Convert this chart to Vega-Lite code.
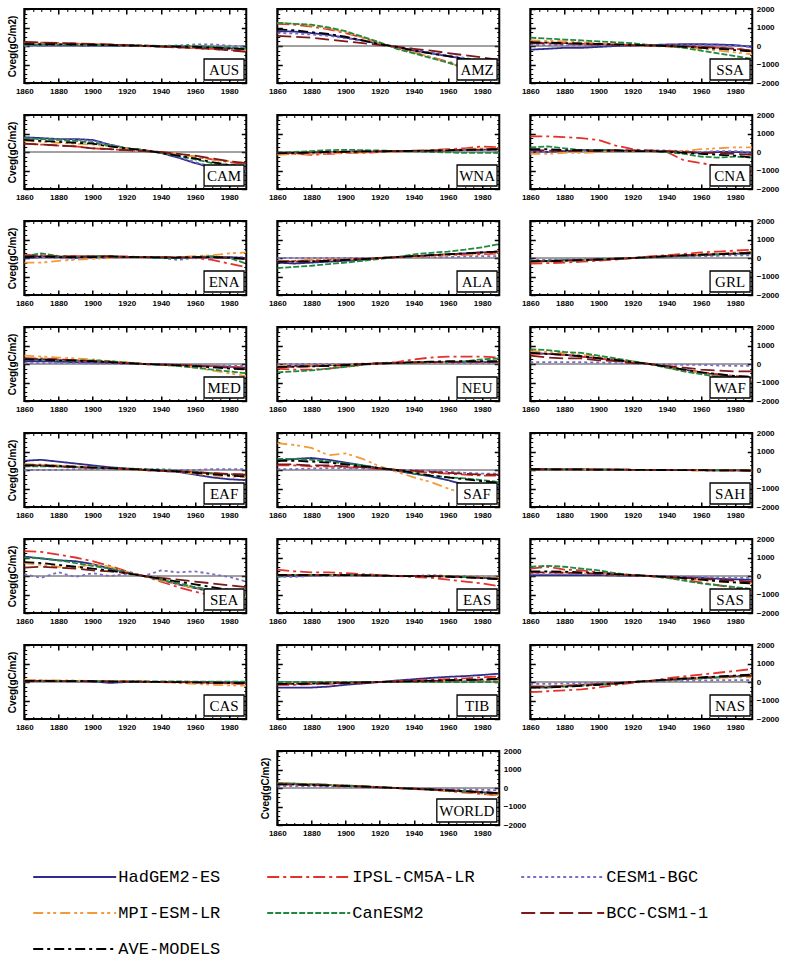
{
"$schema":"https://vega.github.io/schema/vega-lite/v6.json",
"padding":{"left":6,"top":4,"right":2,"bottom":5},
"datasets":{"d":[
{"r":"AUS","t":1860,"H":50,"I":200,"C":0,"M":150,"N":60,"B":220,"A":110},
{"r":"AUS","t":1870,"H":40,"I":180,"C":0,"M":130,"N":80,"B":190,"A":100},
{"r":"AUS","t":1880,"H":30,"I":150,"C":20,"M":110,"N":70,"B":160,"A":90},
{"r":"AUS","t":1890,"H":30,"I":130,"C":0,"M":100,"N":60,"B":140,"A":80},
{"r":"AUS","t":1900,"H":20,"I":100,"C":10,"M":80,"N":50,"B":110,"A":60},
{"r":"AUS","t":1910,"H":20,"I":70,"C":20,"M":60,"N":40,"B":80,"A":50},
{"r":"AUS","t":1920,"H":10,"I":40,"C":30,"M":30,"N":30,"B":50,"A":30},
{"r":"AUS","t":1930,"H":0,"I":0,"C":20,"M":10,"N":40,"B":10,"A":10},
{"r":"AUS","t":1940,"H":-20,"I":-40,"C":0,"M":-20,"N":0,"B":-30,"A":-20},
{"r":"AUS","t":1950,"H":-40,"I":-80,"C":30,"M":-50,"N":10,"B":-70,"A":-30},
{"r":"AUS","t":1960,"H":-60,"I":-120,"C":80,"M":-90,"N":0,"B":-110,"A":-50},
{"r":"AUS","t":1970,"H":-80,"I":-160,"C":90,"M":-130,"N":-40,"B":-160,"A":-80},
{"r":"AUS","t":1980,"H":-120,"I":-220,"C":20,"M":-170,"N":-80,"B":-230,"A":-130},
{"r":"AUS","t":1990,"H":-150,"I":-280,"C":-50,"M":-220,"N":-140,"B":-320,"A":-180},
{"r":"AMZ","t":1860,"H":800,"I":1200,"C":700,"M":1250,"N":1250,"B":550,"A":900},
{"r":"AMZ","t":1870,"H":780,"I":1150,"C":680,"M":1200,"N":1200,"B":500,"A":850},
{"r":"AMZ","t":1880,"H":700,"I":1050,"C":620,"M":1100,"N":1150,"B":450,"A":750},
{"r":"AMZ","t":1890,"H":600,"I":900,"C":550,"M":950,"N":1000,"B":350,"A":650},
{"r":"AMZ","t":1900,"H":450,"I":700,"C":420,"M":750,"N":800,"B":250,"A":500},
{"r":"AMZ","t":1910,"H":300,"I":450,"C":280,"M":450,"N":500,"B":150,"A":300},
{"r":"AMZ","t":1920,"H":100,"I":150,"C":100,"M":150,"N":200,"B":50,"A":100},
{"r":"AMZ","t":1930,"H":-50,"I":-100,"C":-30,"M":-100,"N":-150,"B":-30,"A":-50},
{"r":"AMZ","t":1940,"H":-250,"I":-350,"C":-200,"M":-350,"N":-400,"B":-150,"A":-250},
{"r":"AMZ","t":1950,"H":-400,"I":-600,"C":-350,"M":-600,"N":-650,"B":-250,"A":-400},
{"r":"AMZ","t":1960,"H":-550,"I":-850,"C":-500,"M":-900,"N":-900,"B":-380,"A":-550},
{"r":"AMZ","t":1970,"H":-700,"I":-1100,"C":-650,"M":-1200,"N":-1200,"B":-500,"A":-700},
{"r":"AMZ","t":1980,"H":-850,"I":-1350,"C":-800,"M":-1500,"N":-1450,"B":-620,"A":-850},
{"r":"AMZ","t":1990,"H":-950,"I":-1550,"C":-900,"M":-1700,"N":-1650,"B":-750,"A":-950},
{"r":"SSA","t":1860,"H":-200,"I":200,"C":50,"M":300,"N":450,"B":150,"A":200},
{"r":"SSA","t":1870,"H":-150,"I":180,"C":50,"M":280,"N":400,"B":150,"A":180},
{"r":"SSA","t":1880,"H":-100,"I":150,"C":40,"M":250,"N":350,"B":120,"A":160},
{"r":"SSA","t":1890,"H":-100,"I":120,"C":40,"M":200,"N":300,"B":100,"A":140},
{"r":"SSA","t":1900,"H":-50,"I":100,"C":30,"M":150,"N":250,"B":80,"A":110},
{"r":"SSA","t":1910,"H":0,"I":80,"C":30,"M":100,"N":200,"B":60,"A":90},
{"r":"SSA","t":1920,"H":30,"I":50,"C":20,"M":50,"N":150,"B":40,"A":60},
{"r":"SSA","t":1930,"H":50,"I":20,"C":20,"M":0,"N":50,"B":20,"A":30},
{"r":"SSA","t":1940,"H":80,"I":0,"C":30,"M":-30,"N":0,"B":0,"A":0},
{"r":"SSA","t":1950,"H":100,"I":-30,"C":50,"M":-80,"N":-100,"B":-20,"A":-40},
{"r":"SSA","t":1960,"H":100,"I":-60,"C":50,"M":-150,"N":-250,"B":-50,"A":-100},
{"r":"SSA","t":1970,"H":80,"I":-100,"C":30,"M":-250,"N":-400,"B":-100,"A":-150},
{"r":"SSA","t":1980,"H":50,"I":-150,"C":0,"M":-350,"N":-550,"B":-150,"A":-220},
{"r":"SSA","t":1990,"H":-50,"I":-250,"C":-50,"M":-450,"N":-700,"B":-250,"A":-300},
{"r":"CAM","t":1860,"H":800,"I":450,"C":750,"M":600,"N":750,"B":450,"A":650},
{"r":"CAM","t":1870,"H":750,"I":400,"C":700,"M":550,"N":700,"B":400,"A":600},
{"r":"CAM","t":1880,"H":700,"I":350,"C":700,"M":500,"N":650,"B":350,"A":550},
{"r":"CAM","t":1890,"H":700,"I":300,"C":650,"M":450,"N":600,"B":300,"A":500},
{"r":"CAM","t":1900,"H":650,"I":200,"C":600,"M":400,"N":500,"B":200,"A":450},
{"r":"CAM","t":1910,"H":400,"I":150,"C":400,"M":300,"N":350,"B":150,"A":300},
{"r":"CAM","t":1920,"H":200,"I":100,"C":200,"M":200,"N":200,"B":100,"A":200},
{"r":"CAM","t":1930,"H":100,"I":50,"C":100,"M":100,"N":100,"B":50,"A":100},
{"r":"CAM","t":1940,"H":-50,"I":0,"C":0,"M":0,"N":-50,"B":0,"A":-50},
{"r":"CAM","t":1950,"H":-300,"I":-100,"C":-250,"M":-100,"N":-200,"B":-100,"A":-200},
{"r":"CAM","t":1960,"H":-600,"I":-250,"C":-550,"M":-250,"N":-400,"B":-200,"A":-350},
{"r":"CAM","t":1970,"H":-850,"I":-400,"C":-800,"M":-400,"N":-600,"B":-350,"A":-550},
{"r":"CAM","t":1980,"H":-1000,"I":-550,"C":-950,"M":-500,"N":-700,"B":-500,"A":-700},
{"r":"CAM","t":1990,"H":-1100,"I":-650,"C":-1050,"M":-600,"N":-800,"B":-600,"A":-800},
{"r":"WNA","t":1860,"H":-50,"I":-100,"C":-50,"M":-150,"N":-50,"B":-50,"A":-70},
{"r":"WNA","t":1870,"H":-50,"I":-100,"C":-30,"M":-120,"N":0,"B":-50,"A":-50},
{"r":"WNA","t":1880,"H":-30,"I":-150,"C":-20,"M":-100,"N":50,"B":-30,"A":-30},
{"r":"WNA","t":1890,"H":0,"I":-100,"C":0,"M":-80,"N":100,"B":0,"A":0},
{"r":"WNA","t":1900,"H":0,"I":-50,"C":0,"M":-50,"N":120,"B":0,"A":20},
{"r":"WNA","t":1910,"H":20,"I":-50,"C":20,"M":-30,"N":100,"B":20,"A":30},
{"r":"WNA","t":1920,"H":30,"I":0,"C":30,"M":0,"N":80,"B":30,"A":40},
{"r":"WNA","t":1930,"H":50,"I":30,"C":40,"M":30,"N":50,"B":50,"A":50},
{"r":"WNA","t":1940,"H":50,"I":60,"C":50,"M":50,"N":30,"B":70,"A":60},
{"r":"WNA","t":1950,"H":60,"I":100,"C":60,"M":80,"N":0,"B":80,"A":70},
{"r":"WNA","t":1960,"H":80,"I":150,"C":80,"M":120,"N":-20,"B":100,"A":90},
{"r":"WNA","t":1970,"H":100,"I":200,"C":100,"M":150,"N":-50,"B":120,"A":110},
{"r":"WNA","t":1980,"H":120,"I":300,"C":110,"M":200,"N":-50,"B":130,"A":130},
{"r":"WNA","t":1990,"H":150,"I":250,"C":120,"M":200,"N":-50,"B":150,"A":150},
{"r":"CNA","t":1860,"H":50,"I":850,"C":0,"M":-100,"N":250,"B":100,"A":150},
{"r":"CNA","t":1870,"H":0,"I":850,"C":0,"M":-100,"N":300,"B":80,"A":150},
{"r":"CNA","t":1880,"H":50,"I":800,"C":50,"M":-50,"N":200,"B":50,"A":100},
{"r":"CNA","t":1890,"H":100,"I":750,"C":50,"M":-50,"N":100,"B":50,"A":100},
{"r":"CNA","t":1900,"H":100,"I":650,"C":50,"M":0,"N":100,"B":50,"A":80},
{"r":"CNA","t":1910,"H":100,"I":350,"C":80,"M":50,"N":100,"B":80,"A":80},
{"r":"CNA","t":1920,"H":50,"I":150,"C":80,"M":50,"N":50,"B":80,"A":50},
{"r":"CNA","t":1930,"H":50,"I":50,"C":80,"M":50,"N":50,"B":80,"A":50},
{"r":"CNA","t":1940,"H":50,"I":0,"C":80,"M":50,"N":0,"B":50,"A":20},
{"r":"CNA","t":1950,"H":0,"I":-450,"C":50,"M":50,"N":-100,"B":0,"A":-50},
{"r":"CNA","t":1960,"H":-50,"I":-600,"C":0,"M":150,"N":-250,"B":-50,"A":-100},
{"r":"CNA","t":1970,"H":0,"I":-750,"C":50,"M":200,"N":-300,"B":-50,"A":-150},
{"r":"CNA","t":1980,"H":0,"I":-950,"C":50,"M":250,"N":-250,"B":-100,"A":-200},
{"r":"CNA","t":1990,"H":-50,"I":-1100,"C":0,"M":250,"N":-300,"B":-150,"A":-300},
{"r":"ENA","t":1860,"H":0,"I":150,"C":50,"M":-250,"N":100,"B":100,"A":50},
{"r":"ENA","t":1870,"H":50,"I":150,"C":50,"M":-250,"N":250,"B":100,"A":80},
{"r":"ENA","t":1880,"H":50,"I":100,"C":0,"M":-150,"N":100,"B":80,"A":50},
{"r":"ENA","t":1890,"H":0,"I":100,"C":-50,"M":-100,"N":50,"B":80,"A":50},
{"r":"ENA","t":1900,"H":50,"I":100,"C":0,"M":-50,"N":100,"B":80,"A":50},
{"r":"ENA","t":1910,"H":50,"I":100,"C":0,"M":0,"N":100,"B":80,"A":80},
{"r":"ENA","t":1920,"H":50,"I":80,"C":50,"M":50,"N":50,"B":50,"A":60},
{"r":"ENA","t":1930,"H":50,"I":50,"C":50,"M":50,"N":50,"B":50,"A":50},
{"r":"ENA","t":1940,"H":0,"I":50,"C":0,"M":50,"N":0,"B":50,"A":30},
{"r":"ENA","t":1950,"H":0,"I":50,"C":-100,"M":50,"N":0,"B":50,"A":20},
{"r":"ENA","t":1960,"H":50,"I":0,"C":0,"M":100,"N":50,"B":30,"A":50},
{"r":"ENA","t":1970,"H":50,"I":-100,"C":0,"M":150,"N":100,"B":30,"A":50},
{"r":"ENA","t":1980,"H":50,"I":-300,"C":0,"M":250,"N":0,"B":0,"A":20},
{"r":"ENA","t":1990,"H":0,"I":-500,"C":50,"M":300,"N":-300,"B":-50,"A":-50},
{"r":"ALA","t":1860,"H":-250,"I":-150,"C":0,"M":-150,"N":-550,"B":-200,"A":-200},
{"r":"ALA","t":1870,"H":-300,"I":-150,"C":0,"M":-150,"N":-480,"B":-200,"A":-200},
{"r":"ALA","t":1880,"H":-250,"I":-120,"C":0,"M":-120,"N":-420,"B":-180,"A":-180},
{"r":"ALA","t":1890,"H":-200,"I":-100,"C":0,"M":-100,"N":-330,"B":-150,"A":-150},
{"r":"ALA","t":1900,"H":-150,"I":-80,"C":0,"M":-80,"N":-250,"B":-100,"A":-100},
{"r":"ALA","t":1910,"H":-100,"I":-50,"C":0,"M":-50,"N":-150,"B":-50,"A":-60},
{"r":"ALA","t":1920,"H":0,"I":0,"C":0,"M":0,"N":-50,"B":0,"A":0},
{"r":"ALA","t":1930,"H":50,"I":50,"C":50,"M":50,"N":50,"B":50,"A":50},
{"r":"ALA","t":1940,"H":100,"I":80,"C":50,"M":80,"N":200,"B":100,"A":100},
{"r":"ALA","t":1950,"H":150,"I":100,"C":50,"M":100,"N":280,"B":150,"A":150},
{"r":"ALA","t":1960,"H":200,"I":150,"C":50,"M":150,"N":350,"B":200,"A":200},
{"r":"ALA","t":1970,"H":250,"I":180,"C":80,"M":200,"N":450,"B":250,"A":250},
{"r":"ALA","t":1980,"H":300,"I":200,"C":100,"M":250,"N":580,"B":300,"A":300},
{"r":"ALA","t":1990,"H":350,"I":250,"C":100,"M":300,"N":750,"B":350,"A":350},
{"r":"GRL","t":1860,"H":-150,"I":-300,"C":-100,"M":-200,"N":-150,"B":-200,"A":-180},
{"r":"GRL","t":1870,"H":-150,"I":-280,"C":-100,"M":-180,"N":-150,"B":-180,"A":-170},
{"r":"GRL","t":1880,"H":-120,"I":-250,"C":-80,"M":-150,"N":-120,"B":-150,"A":-150},
{"r":"GRL","t":1890,"H":-100,"I":-200,"C":-60,"M":-120,"N":-100,"B":-120,"A":-120},
{"r":"GRL","t":1900,"H":-80,"I":-150,"C":-40,"M":-80,"N":-80,"B":-80,"A":-80},
{"r":"GRL","t":1910,"H":-40,"I":-80,"C":-20,"M":-40,"N":-40,"B":-40,"A":-40},
{"r":"GRL","t":1920,"H":0,"I":0,"C":0,"M":0,"N":0,"B":0,"A":0},
{"r":"GRL","t":1930,"H":40,"I":80,"C":20,"M":50,"N":40,"B":50,"A":50},
{"r":"GRL","t":1940,"H":80,"I":150,"C":50,"M":100,"N":80,"B":100,"A":100},
{"r":"GRL","t":1950,"H":120,"I":220,"C":80,"M":150,"N":120,"B":150,"A":140},
{"r":"GRL","t":1960,"H":150,"I":300,"C":100,"M":200,"N":160,"B":180,"A":180},
{"r":"GRL","t":1970,"H":200,"I":350,"C":120,"M":250,"N":200,"B":200,"A":210},
{"r":"GRL","t":1980,"H":230,"I":400,"C":150,"M":300,"N":230,"B":250,"A":240},
{"r":"GRL","t":1990,"H":250,"I":450,"C":150,"M":300,"N":250,"B":300,"A":270},
{"r":"MED","t":1860,"H":150,"I":300,"C":50,"M":450,"N":250,"B":300,"A":250},
{"r":"MED","t":1870,"H":150,"I":300,"C":50,"M":400,"N":250,"B":250,"A":230},
{"r":"MED","t":1880,"H":120,"I":250,"C":50,"M":350,"N":200,"B":250,"A":200},
{"r":"MED","t":1890,"H":100,"I":200,"C":50,"M":300,"N":200,"B":200,"A":180},
{"r":"MED","t":1900,"H":80,"I":150,"C":30,"M":250,"N":200,"B":150,"A":150},
{"r":"MED","t":1910,"H":60,"I":100,"C":20,"M":150,"N":150,"B":100,"A":100},
{"r":"MED","t":1920,"H":30,"I":50,"C":10,"M":100,"N":80,"B":50,"A":50},
{"r":"MED","t":1930,"H":0,"I":0,"C":0,"M":0,"N":0,"B":0,"A":0},
{"r":"MED","t":1940,"H":-20,"I":-30,"C":0,"M":-50,"N":-50,"B":-30,"A":-30},
{"r":"MED","t":1950,"H":-50,"I":-50,"C":-20,"M":-100,"N":-100,"B":-60,"A":-70},
{"r":"MED","t":1960,"H":-80,"I":-80,"C":-50,"M":-200,"N":-200,"B":-100,"A":-120},
{"r":"MED","t":1970,"H":-120,"I":-100,"C":-80,"M":-350,"N":-300,"B":-150,"A":-180},
{"r":"MED","t":1980,"H":-150,"I":-150,"C":-100,"M":-500,"N":-400,"B":-200,"A":-250},
{"r":"MED","t":1990,"H":-200,"I":-200,"C":-100,"M":-650,"N":-500,"B":-250,"A":-300},
{"r":"NEU","t":1860,"H":-100,"I":-250,"C":0,"M":-100,"N":-450,"B":-150,"A":-150},
{"r":"NEU","t":1870,"H":-100,"I":-300,"C":0,"M":-100,"N":-400,"B":-150,"A":-150},
{"r":"NEU","t":1880,"H":-80,"I":-300,"C":0,"M":-80,"N":-350,"B":-120,"A":-130},
{"r":"NEU","t":1890,"H":-60,"I":-250,"C":0,"M":-50,"N":-250,"B":-100,"A":-100},
{"r":"NEU","t":1900,"H":-30,"I":-150,"C":0,"M":-30,"N":-150,"B":-50,"A":-60},
{"r":"NEU","t":1910,"H":0,"I":-50,"C":20,"M":0,"N":-50,"B":0,"A":-10},
{"r":"NEU","t":1920,"H":30,"I":50,"C":30,"M":30,"N":50,"B":30,"A":30},
{"r":"NEU","t":1930,"H":50,"I":100,"C":50,"M":50,"N":50,"B":50,"A":60},
{"r":"NEU","t":1940,"H":80,"I":250,"C":50,"M":50,"N":80,"B":80,"A":100},
{"r":"NEU","t":1950,"H":100,"I":350,"C":50,"M":80,"N":100,"B":100,"A":130},
{"r":"NEU","t":1960,"H":100,"I":400,"C":50,"M":100,"N":100,"B":100,"A":150},
{"r":"NEU","t":1970,"H":100,"I":400,"C":50,"M":100,"N":150,"B":120,"A":150},
{"r":"NEU","t":1980,"H":100,"I":400,"C":50,"M":100,"N":250,"B":120,"A":150},
{"r":"NEU","t":1990,"H":100,"I":350,"C":50,"M":100,"N":300,"B":120,"A":150},
{"r":"WAF","t":1860,"H":600,"I":550,"C":100,"M":700,"N":800,"B":450,"A":600},
{"r":"WAF","t":1870,"H":550,"I":550,"C":100,"M":650,"N":750,"B":350,"A":550},
{"r":"WAF","t":1880,"H":500,"I":500,"C":100,"M":600,"N":650,"B":300,"A":500},
{"r":"WAF","t":1890,"H":400,"I":400,"C":100,"M":500,"N":600,"B":300,"A":420},
{"r":"WAF","t":1900,"H":300,"I":300,"C":80,"M":400,"N":450,"B":200,"A":320},
{"r":"WAF","t":1910,"H":200,"I":200,"C":50,"M":280,"N":300,"B":150,"A":220},
{"r":"WAF","t":1920,"H":100,"I":100,"C":30,"M":150,"N":150,"B":50,"A":100},
{"r":"WAF","t":1930,"H":0,"I":0,"C":0,"M":0,"N":0,"B":0,"A":0},
{"r":"WAF","t":1940,"H":-150,"I":-150,"C":-30,"M":-200,"N":-200,"B":-100,"A":-150},
{"r":"WAF","t":1950,"H":-300,"I":-300,"C":-50,"M":-350,"N":-400,"B":-200,"A":-300},
{"r":"WAF","t":1960,"H":-450,"I":-450,"C":-50,"M":-500,"N":-550,"B":-300,"A":-450},
{"r":"WAF","t":1970,"H":-600,"I":-550,"C":-80,"M":-650,"N":-700,"B":-350,"A":-550},
{"r":"WAF","t":1980,"H":-700,"I":-650,"C":-100,"M":-800,"N":-850,"B":-400,"A":-650},
{"r":"WAF","t":1990,"H":-750,"I":-700,"C":-100,"M":-850,"N":-950,"B":-400,"A":-700},
{"r":"EAF","t":1860,"H":500,"I":300,"C":0,"M":300,"N":200,"B":250,"A":250},
{"r":"EAF","t":1870,"H":550,"I":250,"C":0,"M":300,"N":200,"B":250,"A":250},
{"r":"EAF","t":1880,"H":450,"I":200,"C":0,"M":250,"N":180,"B":200,"A":220},
{"r":"EAF","t":1890,"H":350,"I":150,"C":50,"M":200,"N":150,"B":150,"A":180},
{"r":"EAF","t":1900,"H":250,"I":120,"C":50,"M":150,"N":120,"B":120,"A":140},
{"r":"EAF","t":1910,"H":150,"I":100,"C":50,"M":100,"N":100,"B":100,"A":100},
{"r":"EAF","t":1920,"H":80,"I":50,"C":50,"M":50,"N":80,"B":50,"A":60},
{"r":"EAF","t":1930,"H":0,"I":0,"C":50,"M":0,"N":50,"B":0,"A":20},
{"r":"EAF","t":1940,"H":-50,"I":-30,"C":50,"M":-50,"N":0,"B":-50,"A":-30},
{"r":"EAF","t":1950,"H":-100,"I":-70,"C":0,"M":-100,"N":-50,"B":-80,"A":-70},
{"r":"EAF","t":1960,"H":-250,"I":-120,"C":0,"M":-200,"N":-100,"B":-120,"A":-150},
{"r":"EAF","t":1970,"H":-400,"I":-170,"C":50,"M":-300,"N":-200,"B":-170,"A":-230},
{"r":"EAF","t":1980,"H":-500,"I":-220,"C":50,"M":-350,"N":-250,"B":-220,"A":-300},
{"r":"EAF","t":1990,"H":-550,"I":-250,"C":50,"M":-400,"N":-300,"B":-250,"A":-350},
{"r":"SAF","t":1860,"H":500,"I":250,"C":50,"M":1450,"N":600,"B":300,"A":500},
{"r":"SAF","t":1870,"H":600,"I":250,"C":50,"M":1350,"N":600,"B":300,"A":500},
{"r":"SAF","t":1880,"H":650,"I":200,"C":80,"M":1200,"N":550,"B":250,"A":450},
{"r":"SAF","t":1890,"H":550,"I":200,"C":100,"M":800,"N":450,"B":250,"A":400},
{"r":"SAF","t":1900,"H":400,"I":150,"C":100,"M":900,"N":350,"B":200,"A":300},
{"r":"SAF","t":1910,"H":250,"I":100,"C":80,"M":600,"N":250,"B":150,"A":200},
{"r":"SAF","t":1920,"H":100,"I":50,"C":50,"M":200,"N":100,"B":80,"A":100},
{"r":"SAF","t":1930,"H":-50,"I":0,"C":0,"M":-100,"N":0,"B":0,"A":0},
{"r":"SAF","t":1940,"H":-200,"I":-80,"C":0,"M":-400,"N":-200,"B":-50,"A":-150},
{"r":"SAF","t":1950,"H":-350,"I":-150,"C":-50,"M":-650,"N":-300,"B":-100,"A":-300},
{"r":"SAF","t":1960,"H":-550,"I":-200,"C":-100,"M":-1000,"N":-400,"B":-150,"A":-400},
{"r":"SAF","t":1970,"H":-800,"I":-250,"C":-150,"M":-1300,"N":-450,"B":-200,"A":-500},
{"r":"SAF","t":1980,"H":-900,"I":-300,"C":-200,"M":-1500,"N":-550,"B":-250,"A":-600},
{"r":"SAF","t":1990,"H":-950,"I":-300,"C":-200,"M":-1700,"N":-650,"B":-250,"A":-700},
{"r":"SAH","t":1860,"H":40,"I":50,"C":30,"M":40,"N":30,"B":40,"A":40},
{"r":"SAH","t":1870,"H":40,"I":50,"C":30,"M":40,"N":30,"B":40,"A":40},
{"r":"SAH","t":1880,"H":30,"I":40,"C":30,"M":30,"N":30,"B":30,"A":30},
{"r":"SAH","t":1890,"H":30,"I":40,"C":20,"M":30,"N":20,"B":30,"A":30},
{"r":"SAH","t":1900,"H":20,"I":30,"C":20,"M":20,"N":20,"B":20,"A":20},
{"r":"SAH","t":1910,"H":20,"I":20,"C":10,"M":20,"N":10,"B":20,"A":20},
{"r":"SAH","t":1920,"H":10,"I":10,"C":10,"M":10,"N":10,"B":10,"A":10},
{"r":"SAH","t":1930,"H":0,"I":0,"C":0,"M":0,"N":0,"B":0,"A":0},
{"r":"SAH","t":1940,"H":0,"I":-10,"C":0,"M":0,"N":0,"B":0,"A":0},
{"r":"SAH","t":1950,"H":-10,"I":-10,"C":0,"M":-10,"N":0,"B":-10,"A":-10},
{"r":"SAH","t":1960,"H":-10,"I":-20,"C":-10,"M":-20,"N":-10,"B":-10,"A":-10},
{"r":"SAH","t":1970,"H":-20,"I":-20,"C":-10,"M":-20,"N":-10,"B":-20,"A":-20},
{"r":"SAH","t":1980,"H":-20,"I":-30,"C":-10,"M":-30,"N":-10,"B":-20,"A":-20},
{"r":"SAH","t":1990,"H":-30,"I":-40,"C":-10,"M":-40,"N":-20,"B":-30,"A":-30},
{"r":"SEA","t":1860,"H":1050,"I":1350,"C":100,"M":700,"N":1000,"B":450,"A":750},
{"r":"SEA","t":1870,"H":950,"I":1300,"C":-100,"M":600,"N":950,"B":500,"A":700},
{"r":"SEA","t":1880,"H":850,"I":1150,"C":200,"M":500,"N":850,"B":450,"A":600},
{"r":"SEA","t":1890,"H":800,"I":1000,"C":-50,"M":450,"N":700,"B":400,"A":500},
{"r":"SEA","t":1900,"H":650,"I":800,"C":150,"M":650,"N":550,"B":300,"A":400},
{"r":"SEA","t":1910,"H":400,"I":550,"C":0,"M":500,"N":400,"B":250,"A":300},
{"r":"SEA","t":1920,"H":200,"I":250,"C":100,"M":200,"N":200,"B":150,"A":150},
{"r":"SEA","t":1930,"H":0,"I":0,"C":0,"M":0,"N":0,"B":0,"A":0},
{"r":"SEA","t":1940,"H":-200,"I":-300,"C":300,"M":-250,"N":-200,"B":-100,"A":-150},
{"r":"SEA","t":1950,"H":-450,"I":-600,"C":200,"M":-450,"N":-400,"B":-200,"A":-300},
{"r":"SEA","t":1960,"H":-650,"I":-850,"C":250,"M":-650,"N":-600,"B":-300,"A":-450},
{"r":"SEA","t":1970,"H":-850,"I":-1050,"C":100,"M":-850,"N":-750,"B":-400,"A":-600},
{"r":"SEA","t":1980,"H":-1000,"I":-1250,"C":-50,"M":-950,"N":-900,"B":-500,"A":-750},
{"r":"SEA","t":1990,"H":-1100,"I":-1400,"C":-300,"M":-1100,"N":-1000,"B":-600,"A":-900},
{"r":"EAS","t":1860,"H":0,"I":350,"C":-50,"M":50,"N":0,"B":50,"A":60},
{"r":"EAS","t":1870,"H":0,"I":250,"C":-50,"M":50,"N":50,"B":50,"A":60},
{"r":"EAS","t":1880,"H":30,"I":200,"C":0,"M":50,"N":50,"B":50,"A":60},
{"r":"EAS","t":1890,"H":50,"I":200,"C":0,"M":50,"N":50,"B":50,"A":60},
{"r":"EAS","t":1900,"H":50,"I":150,"C":20,"M":50,"N":50,"B":30,"A":50},
{"r":"EAS","t":1910,"H":50,"I":100,"C":30,"M":50,"N":50,"B":30,"A":40},
{"r":"EAS","t":1920,"H":30,"I":50,"C":20,"M":30,"N":20,"B":20,"A":30},
{"r":"EAS","t":1930,"H":0,"I":0,"C":0,"M":0,"N":0,"B":0,"A":0},
{"r":"EAS","t":1940,"H":0,"I":-50,"C":0,"M":0,"N":0,"B":0,"A":-10},
{"r":"EAS","t":1950,"H":0,"I":-100,"C":50,"M":0,"N":0,"B":0,"A":-20},
{"r":"EAS","t":1960,"H":-20,"I":-200,"C":0,"M":0,"N":0,"B":-20,"A":-40},
{"r":"EAS","t":1970,"H":-50,"I":-300,"C":0,"M":-20,"N":-50,"B":-50,"A":-80},
{"r":"EAS","t":1980,"H":-100,"I":-400,"C":-30,"M":-50,"N":-100,"B":-100,"A":-120},
{"r":"EAS","t":1990,"H":-150,"I":-550,"C":-50,"M":-100,"N":-150,"B":-150,"A":-180},
{"r":"SAS","t":1860,"H":50,"I":400,"C":100,"M":200,"N":500,"B":200,"A":250},
{"r":"SAS","t":1870,"H":50,"I":500,"C":100,"M":200,"N":550,"B":200,"A":250},
{"r":"SAS","t":1880,"H":50,"I":350,"C":100,"M":180,"N":500,"B":180,"A":230},
{"r":"SAS","t":1890,"H":50,"I":300,"C":100,"M":150,"N":400,"B":150,"A":200},
{"r":"SAS","t":1900,"H":50,"I":200,"C":100,"M":120,"N":300,"B":120,"A":170},
{"r":"SAS","t":1910,"H":30,"I":100,"C":50,"M":80,"N":150,"B":80,"A":100},
{"r":"SAS","t":1920,"H":10,"I":50,"C":30,"M":30,"N":50,"B":30,"A":50},
{"r":"SAS","t":1930,"H":0,"I":0,"C":0,"M":0,"N":0,"B":0,"A":0},
{"r":"SAS","t":1940,"H":-30,"I":-100,"C":0,"M":-50,"N":-100,"B":-50,"A":-50},
{"r":"SAS","t":1950,"H":-60,"I":-200,"C":-30,"M":-100,"N":-250,"B":-100,"A":-120},
{"r":"SAS","t":1960,"H":-100,"I":-350,"C":-50,"M":-200,"N":-400,"B":-150,"A":-200},
{"r":"SAS","t":1970,"H":-150,"I":-500,"C":-80,"M":-300,"N":-500,"B":-200,"A":-280},
{"r":"SAS","t":1980,"H":-180,"I":-650,"C":-100,"M":-350,"N":-600,"B":-250,"A":-350},
{"r":"SAS","t":1990,"H":-200,"I":-800,"C":-100,"M":-400,"N":-700,"B":-300,"A":-400},
{"r":"CAS","t":1860,"H":50,"I":80,"C":30,"M":100,"N":50,"B":60,"A":60},
{"r":"CAS","t":1870,"H":50,"I":80,"C":30,"M":100,"N":50,"B":60,"A":60},
{"r":"CAS","t":1880,"H":50,"I":60,"C":30,"M":80,"N":50,"B":50,"A":50},
{"r":"CAS","t":1890,"H":30,"I":60,"C":30,"M":80,"N":50,"B":50,"A":50},
{"r":"CAS","t":1900,"H":30,"I":50,"C":20,"M":50,"N":50,"B":40,"A":40},
{"r":"CAS","t":1910,"H":-50,"I":40,"C":20,"M":50,"N":30,"B":30,"A":20},
{"r":"CAS","t":1920,"H":0,"I":30,"C":20,"M":50,"N":30,"B":20,"A":20},
{"r":"CAS","t":1930,"H":0,"I":20,"C":10,"M":30,"N":30,"B":10,"A":15},
{"r":"CAS","t":1940,"H":0,"I":0,"C":10,"M":0,"N":30,"B":0,"A":5},
{"r":"CAS","t":1950,"H":0,"I":-20,"C":0,"M":-50,"N":30,"B":-10,"A":-10},
{"r":"CAS","t":1960,"H":0,"I":-40,"C":0,"M":-100,"N":20,"B":-20,"A":-25},
{"r":"CAS","t":1970,"H":0,"I":-60,"C":0,"M":-150,"N":20,"B":-40,"A":-40},
{"r":"CAS","t":1980,"H":-20,"I":-80,"C":0,"M":-180,"N":20,"B":-50,"A":-55},
{"r":"CAS","t":1990,"H":-30,"I":-100,"C":0,"M":-200,"N":20,"B":-60,"A":-70},
{"r":"TIB","t":1860,"H":-300,"I":-150,"C":0,"M":-50,"N":0,"B":-100,"A":-100},
{"r":"TIB","t":1870,"H":-300,"I":-150,"C":0,"M":-50,"N":0,"B":-100,"A":-100},
{"r":"TIB","t":1880,"H":-300,"I":-120,"C":0,"M":-40,"N":0,"B":-80,"A":-90},
{"r":"TIB","t":1890,"H":-250,"I":-100,"C":0,"M":-30,"N":0,"B":-60,"A":-70},
{"r":"TIB","t":1900,"H":-150,"I":-80,"C":0,"M":-20,"N":0,"B":-40,"A":-50},
{"r":"TIB","t":1910,"H":-80,"I":-40,"C":0,"M":-10,"N":0,"B":-20,"A":-25},
{"r":"TIB","t":1920,"H":0,"I":0,"C":0,"M":0,"N":0,"B":0,"A":0},
{"r":"TIB","t":1930,"H":80,"I":40,"C":10,"M":10,"N":0,"B":20,"A":25},
{"r":"TIB","t":1940,"H":150,"I":80,"C":20,"M":30,"N":0,"B":40,"A":50},
{"r":"TIB","t":1950,"H":220,"I":120,"C":30,"M":50,"N":0,"B":60,"A":75},
{"r":"TIB","t":1960,"H":280,"I":160,"C":40,"M":70,"N":0,"B":80,"A":100},
{"r":"TIB","t":1970,"H":320,"I":200,"C":50,"M":90,"N":0,"B":100,"A":120},
{"r":"TIB","t":1980,"H":380,"I":250,"C":60,"M":100,"N":0,"B":120,"A":140},
{"r":"TIB","t":1990,"H":450,"I":300,"C":70,"M":120,"N":0,"B":150,"A":170},
{"r":"NAS","t":1860,"H":-250,"I":-550,"C":-100,"M":-250,"N":-300,"B":-250,"A":-300},
{"r":"NAS","t":1870,"H":-250,"I":-500,"C":-100,"M":-250,"N":-300,"B":-250,"A":-300},
{"r":"NAS","t":1880,"H":-200,"I":-450,"C":-80,"M":-200,"N":-250,"B":-220,"A":-260},
{"r":"NAS","t":1890,"H":-150,"I":-400,"C":-60,"M":-150,"N":-200,"B":-180,"A":-210},
{"r":"NAS","t":1900,"H":-100,"I":-300,"C":-40,"M":-100,"N":-150,"B":-120,"A":-150},
{"r":"NAS","t":1910,"H":-50,"I":-150,"C":-20,"M":-50,"N":-100,"B":-60,"A":-80},
{"r":"NAS","t":1920,"H":0,"I":-50,"C":0,"M":0,"N":0,"B":0,"A":0},
{"r":"NAS","t":1930,"H":50,"I":50,"C":20,"M":50,"N":50,"B":60,"A":60},
{"r":"NAS","t":1940,"H":100,"I":200,"C":40,"M":100,"N":100,"B":120,"A":130},
{"r":"NAS","t":1950,"H":150,"I":300,"C":60,"M":150,"N":150,"B":180,"A":190},
{"r":"NAS","t":1960,"H":200,"I":400,"C":80,"M":200,"N":200,"B":240,"A":250},
{"r":"NAS","t":1970,"H":250,"I":500,"C":100,"M":230,"N":250,"B":280,"A":300},
{"r":"NAS","t":1980,"H":300,"I":600,"C":100,"M":250,"N":300,"B":320,"A":350},
{"r":"NAS","t":1990,"H":350,"I":700,"C":100,"M":250,"N":350,"B":350,"A":400},
{"r":"WORLD","t":1860,"H":250,"I":250,"C":100,"M":250,"N":250,"B":200,"A":200},
{"r":"WORLD","t":1870,"H":230,"I":230,"C":100,"M":240,"N":230,"B":180,"A":190},
{"r":"WORLD","t":1880,"H":200,"I":200,"C":90,"M":210,"N":200,"B":160,"A":170},
{"r":"WORLD","t":1890,"H":170,"I":170,"C":80,"M":180,"N":170,"B":130,"A":140},
{"r":"WORLD","t":1900,"H":130,"I":130,"C":60,"M":140,"N":130,"B":100,"A":110},
{"r":"WORLD","t":1910,"H":90,"I":90,"C":40,"M":100,"N":90,"B":70,"A":80},
{"r":"WORLD","t":1920,"H":40,"I":40,"C":20,"M":50,"N":40,"B":30,"A":40},
{"r":"WORLD","t":1930,"H":0,"I":0,"C":0,"M":0,"N":0,"B":0,"A":0},
{"r":"WORLD","t":1940,"H":-40,"I":-50,"C":-20,"M":-50,"N":-40,"B":-40,"A":-40},
{"r":"WORLD","t":1950,"H":-80,"I":-100,"C":-40,"M":-100,"N":-80,"B":-80,"A":-80},
{"r":"WORLD","t":1960,"H":-130,"I":-170,"C":-60,"M":-150,"N":-130,"B":-120,"A":-130},
{"r":"WORLD","t":1970,"H":-180,"I":-250,"C":-80,"M":-220,"N":-190,"B":-170,"A":-180},
{"r":"WORLD","t":1980,"H":-230,"I":-320,"C":-100,"M":-300,"N":-250,"B":-220,"A":-230},
{"r":"WORLD","t":1990,"H":-280,"I":-400,"C":-120,"M":-380,"N":-320,"B":-270,"A":-280}
]},
"vconcat":[
{"hconcat":[
{"data":{"name":"d"},
 "transform":[{"filter":{"field":"r","oneOf":["AUS","CAM","ENA","MED","EAF","SEA","CAS"]}},{"fold":["H","I","C","M","N","B","A"],"as":["m","v"]}],
 "facet":{"row":{"field":"r","type":"nominal","sort":["AUS","CAM","ENA","MED","EAF","SEA","CAS"],"header":{"labels":false,"title":null}}},
 "spacing":{"row":32},"bounds":"flush",
 "resolve":{"axis":{"x":"independent","y":"independent"}},
 "spec":{"width":222,"height":74,
  "layer":[
   {"transform":[{"filter":"datum.t==1860&&datum.m=='A'"}],
    "mark":{"type":"rule","color":"#444444","strokeWidth":1},
    "encoding":{
     "x":{"datum":1860,"type":"quantitative","scale":{"domain":[1860,1990],"nice":false,"zero":false},"axis":{"orient":"top","values":[1860,1880,1900,1920,1940,1960,1980],"tickSize":-5,"tickWidth":1.5,"labels":false,"title":null}},
     "x2":{"datum":1990},
     "y":{"datum":0,"type":"quantitative","scale":{"domain":[-2000,2000],"nice":false,"zero":false},"axis":{"orient":"right","values":[-2000,-1000,0,1000,2000],"tickSize":-5,"tickWidth":1.5,"labels":false,"title":null}}}},
   {"mark":{"type":"line","strokeWidth":1.8,"clip":true},
    "encoding":{
     "x":{"field":"t","type":"quantitative","scale":{"domain":[1860,1990],"nice":false,"zero":false},"axis":{"orient":"bottom","values":[1860,1880,1900,1920,1940,1960,1980],"format":"d","tickSize":-5,"tickWidth":1.5,"labelPadding":9,"title":null}},
     "y":{"field":"v","type":"quantitative","scale":{"domain":[-2000,2000],"nice":false,"zero":false},"axis":{"orient":"left","values":[-2000,-1000,0,1000,2000],"tickSize":-5,"tickWidth":1.5,"labels":false,"title":"Cveg(gC/m2)","titlePadding":6}},
     "color":{"field":"m","type":"nominal","scale":{"domain":["H","I","C","M","N","B","A"],"range":["#2e2c8c","#e3312b","#7a6cc4","#f39b3a","#1e8a40","#7c1a1a","#000000"]},"legend":{"title":null,"labelExpr":"{'H':'HadGEM2-ES','I':'IPSL-CM5A-LR','C':'CESM1-BGC','M':'MPI-ESM-LR','N':'CanESM2','B':'BCC-CSM1-1','A':'AVE-MODELS'}[datum.label]"}},
     "strokeDash":{"field":"m","type":"nominal","scale":{"domain":["H","I","C","M","N","B","A"],"range":[[1,0],[12,4,3,4],[3,3],[10,4,3,3,3,4],[6,2],[14,5],[10,4,3,4]]},"legend":{"title":null,"labelExpr":"{'H':'HadGEM2-ES','I':'IPSL-CM5A-LR','C':'CESM1-BGC','M':'MPI-ESM-LR','N':'CanESM2','B':'BCC-CSM1-1','A':'AVE-MODELS'}[datum.label]"}}}},
   {"transform":[{"filter":"datum.t==1860&&datum.m=='A'"}],
    "mark":{"type":"point","shape":"M-1,-0.525L1,-0.525L1,0.525L-1,0.525Z","size":1600,"filled":true,"fill":"white","stroke":"black","strokeWidth":1.3,"opacity":1},
    "encoding":{
     "x":{"datum":1977,"type":"quantitative","scale":{"domain":[1860,1990],"nice":false,"zero":false},"axis":{"orient":"bottom","values":[1865,1870,1875,1885,1890,1895,1905,1910,1915,1925,1930,1935,1945,1950,1955,1965,1970,1975,1985],"tickSize":-2.5,"tickWidth":1,"labels":false,"title":null}},
     "y":{"datum":-1270,"type":"quantitative","scale":{"domain":[-2000,2000],"nice":false,"zero":false},"axis":{"orient":"left","values":[-1750,-1500,-1250,-750,-500,-250,250,500,750,1250,1500,1750],"tickSize":-2.5,"tickWidth":1,"labels":false,"title":null}}}},
   {"transform":[{"filter":"datum.t==1860&&datum.m=='A'"}],
    "mark":{"type":"text","font":"Liberation Serif","fontSize":15,"baseline":"middle","align":"center","dy":1,"color":"black"},
    "encoding":{
     "x":{"datum":1977,"type":"quantitative","scale":{"domain":[1860,1990],"nice":false,"zero":false},"axis":{"orient":"top","values":[1865,1870,1875,1885,1890,1895,1905,1910,1915,1925,1930,1935,1945,1950,1955,1965,1970,1975,1985],"tickSize":-2.5,"tickWidth":1,"labels":false,"title":null}},
     "y":{"datum":-1270,"type":"quantitative","scale":{"domain":[-2000,2000],"nice":false,"zero":false},"axis":{"orient":"right","values":[-1750,-1500,-1250,-750,-500,-250,250,500,750,1250,1500,1750],"tickSize":-2.5,"tickWidth":1,"labels":false,"title":null}},
     "text":{"field":"r","type":"nominal"}}}
  ],
  "resolve":{"axis":{"x":"independent","y":"independent"}}}},
{"data":{"name":"d"},
 "transform":[{"filter":{"field":"r","oneOf":["AMZ","WNA","ALA","NEU","SAF","EAS","TIB"]}},{"fold":["H","I","C","M","N","B","A"],"as":["m","v"]}],
 "facet":{"row":{"field":"r","type":"nominal","sort":["AMZ","WNA","ALA","NEU","SAF","EAS","TIB"],"header":{"labels":false,"title":null}}},
 "spacing":{"row":32},"bounds":"flush",
 "resolve":{"axis":{"x":"independent","y":"independent"}},
 "spec":{"width":222,"height":74,
  "layer":[
   {"transform":[{"filter":"datum.t==1860&&datum.m=='A'"}],
    "mark":{"type":"rule","color":"#444444","strokeWidth":1},
    "encoding":{
     "x":{"datum":1860,"type":"quantitative","scale":{"domain":[1860,1990],"nice":false,"zero":false},"axis":{"orient":"top","values":[1860,1880,1900,1920,1940,1960,1980],"tickSize":-5,"tickWidth":1.5,"labels":false,"title":null}},
     "x2":{"datum":1990},
     "y":{"datum":0,"type":"quantitative","scale":{"domain":[-2000,2000],"nice":false,"zero":false},"axis":{"orient":"right","values":[-2000,-1000,0,1000,2000],"tickSize":-5,"tickWidth":1.5,"labels":false,"title":null}}}},
   {"mark":{"type":"line","strokeWidth":1.8,"clip":true},
    "encoding":{
     "x":{"field":"t","type":"quantitative","scale":{"domain":[1860,1990],"nice":false,"zero":false},"axis":{"orient":"bottom","values":[1860,1880,1900,1920,1940,1960,1980],"format":"d","tickSize":-5,"tickWidth":1.5,"labelPadding":9,"title":null}},
     "y":{"field":"v","type":"quantitative","scale":{"domain":[-2000,2000],"nice":false,"zero":false},"axis":{"orient":"left","values":[-2000,-1000,0,1000,2000],"tickSize":-5,"tickWidth":1.5,"labels":false,"title":null}},
     "color":{"field":"m","type":"nominal","scale":{"domain":["H","I","C","M","N","B","A"],"range":["#2e2c8c","#e3312b","#7a6cc4","#f39b3a","#1e8a40","#7c1a1a","#000000"]},"legend":{"title":null,"labelExpr":"{'H':'HadGEM2-ES','I':'IPSL-CM5A-LR','C':'CESM1-BGC','M':'MPI-ESM-LR','N':'CanESM2','B':'BCC-CSM1-1','A':'AVE-MODELS'}[datum.label]"}},
     "strokeDash":{"field":"m","type":"nominal","scale":{"domain":["H","I","C","M","N","B","A"],"range":[[1,0],[12,4,3,4],[3,3],[10,4,3,3,3,4],[6,2],[14,5],[10,4,3,4]]},"legend":{"title":null,"labelExpr":"{'H':'HadGEM2-ES','I':'IPSL-CM5A-LR','C':'CESM1-BGC','M':'MPI-ESM-LR','N':'CanESM2','B':'BCC-CSM1-1','A':'AVE-MODELS'}[datum.label]"}}}},
   {"transform":[{"filter":"datum.t==1860&&datum.m=='A'"}],
    "mark":{"type":"point","shape":"M-1,-0.525L1,-0.525L1,0.525L-1,0.525Z","size":1600,"filled":true,"fill":"white","stroke":"black","strokeWidth":1.3,"opacity":1},
    "encoding":{
     "x":{"datum":1977,"type":"quantitative","scale":{"domain":[1860,1990],"nice":false,"zero":false},"axis":{"orient":"bottom","values":[1865,1870,1875,1885,1890,1895,1905,1910,1915,1925,1930,1935,1945,1950,1955,1965,1970,1975,1985],"tickSize":-2.5,"tickWidth":1,"labels":false,"title":null}},
     "y":{"datum":-1270,"type":"quantitative","scale":{"domain":[-2000,2000],"nice":false,"zero":false},"axis":{"orient":"left","values":[-1750,-1500,-1250,-750,-500,-250,250,500,750,1250,1500,1750],"tickSize":-2.5,"tickWidth":1,"labels":false,"title":null}}}},
   {"transform":[{"filter":"datum.t==1860&&datum.m=='A'"}],
    "mark":{"type":"text","font":"Liberation Serif","fontSize":15,"baseline":"middle","align":"center","dy":1,"color":"black"},
    "encoding":{
     "x":{"datum":1977,"type":"quantitative","scale":{"domain":[1860,1990],"nice":false,"zero":false},"axis":{"orient":"top","values":[1865,1870,1875,1885,1890,1895,1905,1910,1915,1925,1930,1935,1945,1950,1955,1965,1970,1975,1985],"tickSize":-2.5,"tickWidth":1,"labels":false,"title":null}},
     "y":{"datum":-1270,"type":"quantitative","scale":{"domain":[-2000,2000],"nice":false,"zero":false},"axis":{"orient":"right","values":[-1750,-1500,-1250,-750,-500,-250,250,500,750,1250,1500,1750],"tickSize":-2.5,"tickWidth":1,"labels":false,"title":null}},
     "text":{"field":"r","type":"nominal"}}}
  ],
  "resolve":{"axis":{"x":"independent","y":"independent"}}}},
{"data":{"name":"d"},
 "transform":[{"filter":{"field":"r","oneOf":["SSA","CNA","GRL","WAF","SAH","SAS","NAS"]}},{"fold":["H","I","C","M","N","B","A"],"as":["m","v"]}],
 "facet":{"row":{"field":"r","type":"nominal","sort":["SSA","CNA","GRL","WAF","SAH","SAS","NAS"],"header":{"labels":false,"title":null}}},
 "spacing":{"row":32},"bounds":"flush",
 "resolve":{"axis":{"x":"independent","y":"independent"}},
 "spec":{"width":222,"height":74,
  "layer":[
   {"transform":[{"filter":"datum.t==1860&&datum.m=='A'"}],
    "mark":{"type":"rule","color":"#444444","strokeWidth":1},
    "encoding":{
     "x":{"datum":1860,"type":"quantitative","scale":{"domain":[1860,1990],"nice":false,"zero":false},"axis":{"orient":"top","values":[1860,1880,1900,1920,1940,1960,1980],"tickSize":-5,"tickWidth":1.5,"labels":false,"title":null}},
     "x2":{"datum":1990},
     "y":{"datum":0,"type":"quantitative","scale":{"domain":[-2000,2000],"nice":false,"zero":false},"axis":{"orient":"right","values":[-2000,-1000,0,1000,2000],"format":"d","tickSize":-5,"tickWidth":1.5,"labelPadding":9,"title":null}}}},
   {"mark":{"type":"line","strokeWidth":1.8,"clip":true},
    "encoding":{
     "x":{"field":"t","type":"quantitative","scale":{"domain":[1860,1990],"nice":false,"zero":false},"axis":{"orient":"bottom","values":[1860,1880,1900,1920,1940,1960,1980],"format":"d","tickSize":-5,"tickWidth":1.5,"labelPadding":9,"title":null}},
     "y":{"field":"v","type":"quantitative","scale":{"domain":[-2000,2000],"nice":false,"zero":false},"axis":{"orient":"left","values":[-2000,-1000,0,1000,2000],"tickSize":-5,"tickWidth":1.5,"labels":false,"title":null}},
     "color":{"field":"m","type":"nominal","scale":{"domain":["H","I","C","M","N","B","A"],"range":["#2e2c8c","#e3312b","#7a6cc4","#f39b3a","#1e8a40","#7c1a1a","#000000"]},"legend":{"title":null,"labelExpr":"{'H':'HadGEM2-ES','I':'IPSL-CM5A-LR','C':'CESM1-BGC','M':'MPI-ESM-LR','N':'CanESM2','B':'BCC-CSM1-1','A':'AVE-MODELS'}[datum.label]"}},
     "strokeDash":{"field":"m","type":"nominal","scale":{"domain":["H","I","C","M","N","B","A"],"range":[[1,0],[12,4,3,4],[3,3],[10,4,3,3,3,4],[6,2],[14,5],[10,4,3,4]]},"legend":{"title":null,"labelExpr":"{'H':'HadGEM2-ES','I':'IPSL-CM5A-LR','C':'CESM1-BGC','M':'MPI-ESM-LR','N':'CanESM2','B':'BCC-CSM1-1','A':'AVE-MODELS'}[datum.label]"}}}},
   {"transform":[{"filter":"datum.t==1860&&datum.m=='A'"}],
    "mark":{"type":"point","shape":"M-1,-0.525L1,-0.525L1,0.525L-1,0.525Z","size":1600,"filled":true,"fill":"white","stroke":"black","strokeWidth":1.3,"opacity":1},
    "encoding":{
     "x":{"datum":1977,"type":"quantitative","scale":{"domain":[1860,1990],"nice":false,"zero":false},"axis":{"orient":"bottom","values":[1865,1870,1875,1885,1890,1895,1905,1910,1915,1925,1930,1935,1945,1950,1955,1965,1970,1975,1985],"tickSize":-2.5,"tickWidth":1,"labels":false,"title":null}},
     "y":{"datum":-1270,"type":"quantitative","scale":{"domain":[-2000,2000],"nice":false,"zero":false},"axis":{"orient":"left","values":[-1750,-1500,-1250,-750,-500,-250,250,500,750,1250,1500,1750],"tickSize":-2.5,"tickWidth":1,"labels":false,"title":null}}}},
   {"transform":[{"filter":"datum.t==1860&&datum.m=='A'"}],
    "mark":{"type":"text","font":"Liberation Serif","fontSize":15,"baseline":"middle","align":"center","dy":1,"color":"black"},
    "encoding":{
     "x":{"datum":1977,"type":"quantitative","scale":{"domain":[1860,1990],"nice":false,"zero":false},"axis":{"orient":"top","values":[1865,1870,1875,1885,1890,1895,1905,1910,1915,1925,1930,1935,1945,1950,1955,1965,1970,1975,1985],"tickSize":-2.5,"tickWidth":1,"labels":false,"title":null}},
     "y":{"datum":-1270,"type":"quantitative","scale":{"domain":[-2000,2000],"nice":false,"zero":false},"axis":{"orient":"right","values":[-1750,-1500,-1250,-750,-500,-250,250,500,750,1250,1500,1750],"tickSize":-2.5,"tickWidth":1,"labels":false,"title":null}},
     "text":{"field":"r","type":"nominal"}}}
  ],
  "resolve":{"axis":{"x":"independent","y":"independent"}}}}
],"spacing":19},
{"data":{"name":"d"},
 "transform":[{"filter":"datum.r=='WORLD'"},{"fold":["H","I","C","M","N","B","A"],"as":["m","v"]}],
 "width":222,"height":74,
 "layer":[
   {"transform":[{"filter":"datum.t==1860&&datum.m=='A'"}],
    "mark":{"type":"rule","color":"#444444","strokeWidth":1},
    "encoding":{
     "x":{"datum":1860,"type":"quantitative","scale":{"domain":[1860,1990],"nice":false,"zero":false},"axis":{"orient":"top","values":[1860,1880,1900,1920,1940,1960,1980],"tickSize":-5,"tickWidth":1.5,"labels":false,"title":null}},
     "x2":{"datum":1990},
     "y":{"datum":0,"type":"quantitative","scale":{"domain":[-2000,2000],"nice":false,"zero":false},"axis":{"orient":"right","values":[-2000,-1000,0,1000,2000],"format":"d","tickSize":-5,"tickWidth":1.5,"labelPadding":9,"title":null}}}},
   {"mark":{"type":"line","strokeWidth":1.8,"clip":true},
    "encoding":{
     "x":{"field":"t","type":"quantitative","scale":{"domain":[1860,1990],"nice":false,"zero":false},"axis":{"orient":"bottom","values":[1860,1880,1900,1920,1940,1960,1980],"format":"d","tickSize":-5,"tickWidth":1.5,"labelPadding":9,"title":null}},
     "y":{"field":"v","type":"quantitative","scale":{"domain":[-2000,2000],"nice":false,"zero":false},"axis":{"orient":"left","values":[-2000,-1000,0,1000,2000],"tickSize":-5,"tickWidth":1.5,"labels":false,"title":"Cveg(gC/m2)","titlePadding":6}},
     "color":{"field":"m","type":"nominal","scale":{"domain":["H","I","C","M","N","B","A"],"range":["#2e2c8c","#e3312b","#7a6cc4","#f39b3a","#1e8a40","#7c1a1a","#000000"]},"legend":{"title":null,"labelExpr":"{'H':'HadGEM2-ES','I':'IPSL-CM5A-LR','C':'CESM1-BGC','M':'MPI-ESM-LR','N':'CanESM2','B':'BCC-CSM1-1','A':'AVE-MODELS'}[datum.label]"}},
     "strokeDash":{"field":"m","type":"nominal","scale":{"domain":["H","I","C","M","N","B","A"],"range":[[1,0],[12,4,3,4],[3,3],[10,4,3,3,3,4],[6,2],[14,5],[10,4,3,4]]},"legend":{"title":null,"labelExpr":"{'H':'HadGEM2-ES','I':'IPSL-CM5A-LR','C':'CESM1-BGC','M':'MPI-ESM-LR','N':'CanESM2','B':'BCC-CSM1-1','A':'AVE-MODELS'}[datum.label]"}}}},
   {"transform":[{"filter":"datum.t==1860&&datum.m=='A'"}],
    "mark":{"type":"point","shape":"M-1,-0.383L1,-0.383L1,0.383L-1,0.383Z","size":3600,"filled":true,"fill":"white","stroke":"black","strokeWidth":1.3,"opacity":1},
    "encoding":{
     "x":{"datum":1971,"type":"quantitative","scale":{"domain":[1860,1990],"nice":false,"zero":false},"axis":{"orient":"bottom","values":[1865,1870,1875,1885,1890,1895,1905,1910,1915,1925,1930,1935,1945,1950,1955,1965,1970,1975,1985],"tickSize":-2.5,"tickWidth":1,"labels":false,"title":null}},
     "y":{"datum":-1216,"type":"quantitative","scale":{"domain":[-2000,2000],"nice":false,"zero":false},"axis":{"orient":"left","values":[-1750,-1500,-1250,-750,-500,-250,250,500,750,1250,1500,1750],"tickSize":-2.5,"tickWidth":1,"labels":false,"title":null}}}},
   {"transform":[{"filter":"datum.t==1860&&datum.m=='A'"}],
    "mark":{"type":"text","font":"Liberation Serif","fontSize":15,"baseline":"middle","align":"center","dy":1,"color":"black"},
    "encoding":{
     "x":{"datum":1971,"type":"quantitative","scale":{"domain":[1860,1990],"nice":false,"zero":false},"axis":{"orient":"top","values":[1865,1870,1875,1885,1890,1895,1905,1910,1915,1925,1930,1935,1945,1950,1955,1965,1970,1975,1985],"tickSize":-2.5,"tickWidth":1,"labels":false,"title":null}},
     "y":{"datum":-1216,"type":"quantitative","scale":{"domain":[-2000,2000],"nice":false,"zero":false},"axis":{"orient":"right","values":[-1750,-1500,-1250,-750,-500,-250,250,500,750,1250,1500,1750],"tickSize":-2.5,"tickWidth":1,"labels":false,"title":null}},
     "text":{"field":"r","type":"nominal"}}}
 ],
 "resolve":{"axis":{"x":"independent","y":"independent"}}}
],
"spacing":14,"center":true,
"config":{
 "view":{"stroke":"black","strokeWidth":2},
 "axis":{"domain":false,"grid":false,"tickColor":"black","labelColor":"black","labelFont":"Liberation Sans","labelFontWeight":"bold","labelFontSize":8,"titleFont":"Liberation Sans","titleFontWeight":"bold","titleFontSize":10,"titleColor":"black","labelFlush":false,"labelOverlap":false},
 "legend":{"orient":"bottom","columns":3,"symbolType":"M-3,0L3,0","symbolSize":765,"symbolOffset":27.7,"symbolStrokeWidth":2,"labelFont":"Liberation Mono","labelFontSize":17,"labelColor":"black","columnPadding":42,"rowPadding":13,"labelOffset":28.6,"offset":16,"padding":8,"labelLimit":300}
}
}
